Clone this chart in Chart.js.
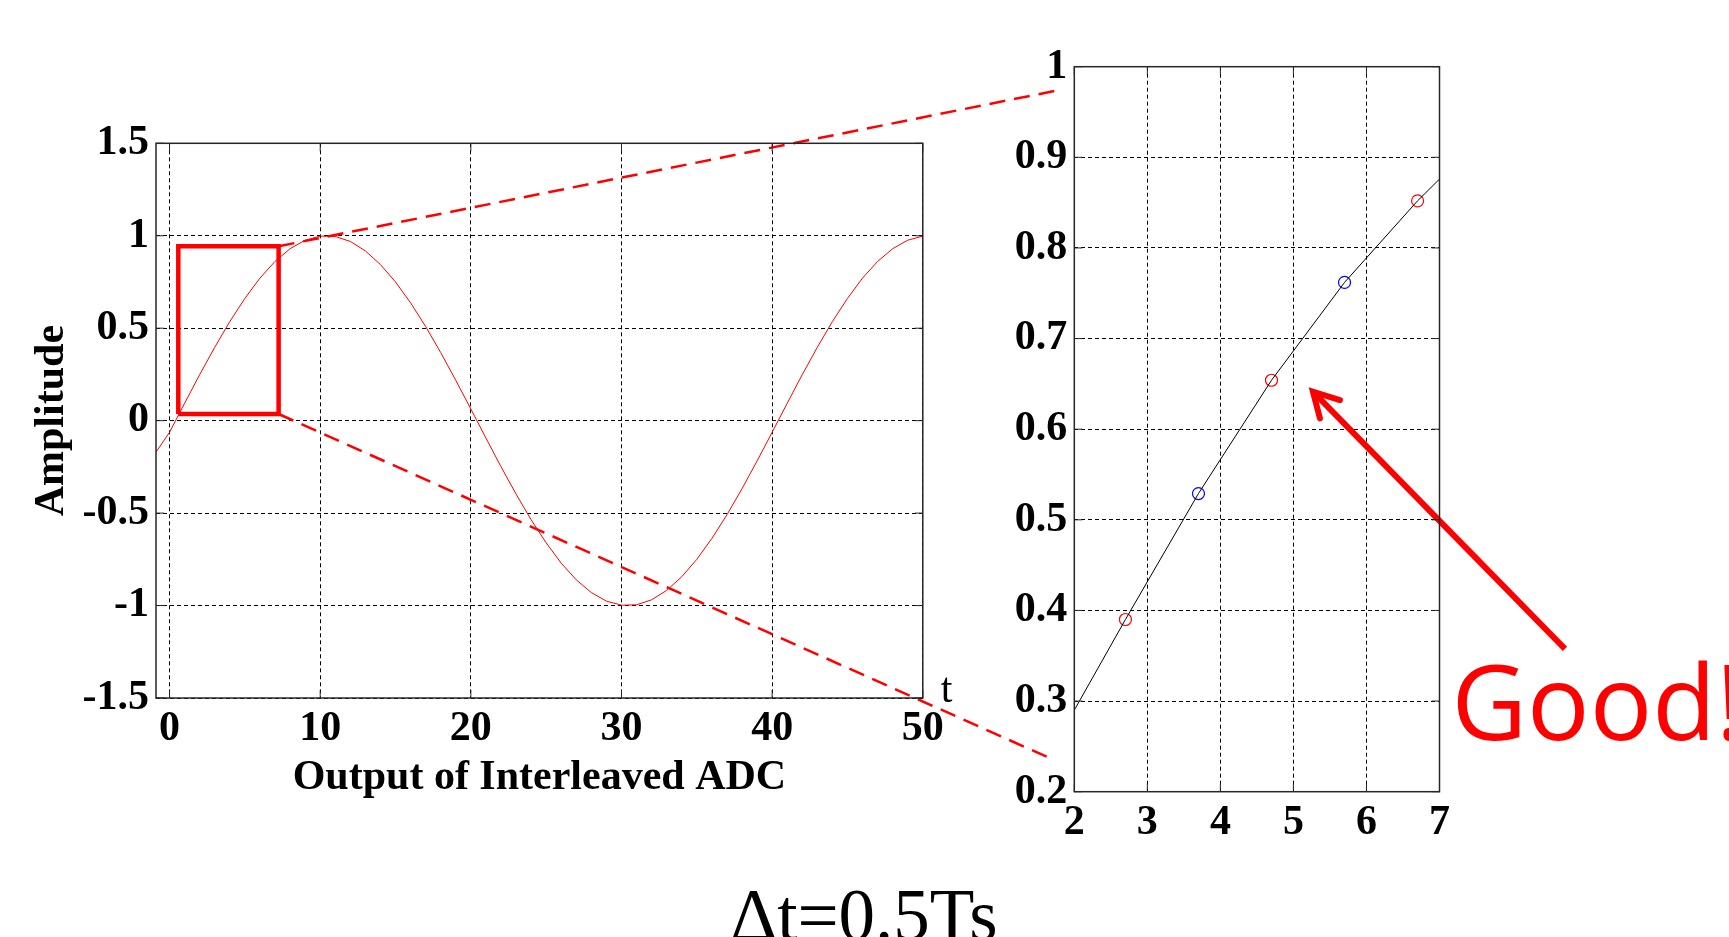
<!DOCTYPE html>
<html>
<head>
<meta charset="utf-8">
<title>Output of Interleaved ADC, Δt=0.5Ts</title>
<script src="https://cdn.jsdelivr.net/npm/chart.js@4.4.1/dist/chart.umd.min.js"></script>
<style>
  html, body { margin: 0; padding: 0; background: #fff; overflow: hidden; }
  #wrap { position: relative; width: 1729px; height: 937px; }
  canvas { position: absolute; top: 0; }
  #mainChart { left: 0; }
  #zoomChart { left: 980px; }
</style>
</head>
<body>
<div id="wrap">
  <canvas id="mainChart" width="1729" height="937"></canvas>
  <canvas id="zoomChart" width="749" height="937"></canvas>
</div>
<script>
// Main trace (left plot)

const timeSamples = [-0.9, 0, 1, 2, 3, 4, 5, 6, 7, 8, 9, 10, 11, 12, 13, 14, 15, 16, 17, 18, 19, 20,
  21, 22, 23, 24, 25, 26, 27, 28, 29, 30, 31, 32, 33, 34, 35, 36, 37, 38, 39, 40,
  41, 42, 43, 44, 45, 46, 47, 48, 49, 50];
const amplitude = [-0.17, -0.063, 0.094, 0.249, 0.397, 0.536, 0.661, 0.771, 0.861, 0.930, 0.976, 0.998,
  0.996, 0.969, 0.918, 0.844, 0.750, 0.637, 0.509, 0.368, 0.218, 0.063,
  -0.094, -0.249, -0.397, -0.536, -0.661, -0.771, -0.861, -0.930, -0.976, -0.998,
  -0.996, -0.969, -0.918, -0.844, -0.750, -0.637, -0.509, -0.368, -0.218, -0.063,
  0.094, 0.249, 0.397, 0.536, 0.661, 0.771, 0.861, 0.930, 0.976, 0.998];
const mainXTicks = [0, 10, 20, 30, 40, 50];
const mainYTicks = [-1.5, -1, -0.5, 0, 0.5, 1, 1.5];

// zoom box and the dashed lead lines (main plot units)
const boxX = [0.58, 7.24, 7.24, 0.58, 0.58];
const boxY = [0.036, 0.036, 0.943, 0.943, 0.036];
const leadUpperX = [7.24, 58.8];
const leadUpperY = [0.943, 1.784];
const leadLowerX = [7.24, 58.7];
const leadLowerY = [0.036, -1.835];

// Zoomed trace (right plot)

const zoomLineX = [2, 2.7, 3.7, 4.7, 5.7, 6.7, 7];
const zoomLineY = [0.29, 0.39, 0.529, 0.654, 0.762, 0.852, 0.876];
const adcAX = [2.7, 4.7, 6.7];
const adcAY = [0.39, 0.654, 0.852];
const adcBX = [3.7, 5.7];
const adcBY = [0.529, 0.762];
const zoomXTicks = [2, 3, 4, 5, 6, 7];
const zoomYTicks = [0.2, 0.3, 0.4, 0.5, 0.6, 0.7, 0.8, 0.9, 1];

// arrow (zoom plot units)
const arrowShaftX = [8.718, 5.267];
const arrowShaftY = [0.3575, 0.6414];
const arrowHeadX = [5.637, 5.267, 5.363];
const arrowHeadY = [0.6322, 0.6414, 0.612];

const pts = (xs, ys) => xs.map((x, i) => ({ x: x, y: ys[i] }));

Chart.defaults.font.family = '"Liberation Serif", "Times New Roman", serif';
Chart.defaults.color = "#000";

const tickFont = { size: 42, weight: "bold" };
const titleFont = { size: 42, weight: "bold" };

// Frame round the plot area with short inward ticks, like a MATLAB axes box
const axesBox = {
  id: "axesBox",
  afterDraw(chart) {
    const { ctx, chartArea, scales } = chart;
    const a = chartArea;
    ctx.save();
    ctx.strokeStyle = "#262626";
    ctx.lineWidth = 1;
    ctx.beginPath();
    scales.x.ticks.forEach((t) => {
      const px = scales.x.getPixelForValue(t.value);
      ctx.moveTo(px, a.bottom); ctx.lineTo(px, a.bottom - 8);
      ctx.moveTo(px, a.top); ctx.lineTo(px, a.top + 8);
    });
    scales.y.ticks.forEach((t) => {
      const py = scales.y.getPixelForValue(t.value);
      ctx.moveTo(a.left, py); ctx.lineTo(a.left + 8, py);
      ctx.moveTo(a.right, py); ctx.lineTo(a.right - 8, py);
    });
    ctx.stroke();
    ctx.lineWidth = 1.5;
    ctx.strokeRect(a.left, a.top, a.width, a.height);
    ctx.restore();
  },
};

const mainNotes = {
  id: "mainNotes",
  afterDraw(chart) {
    const { ctx, scales } = chart;
    ctx.save();
    ctx.fillStyle = "#000";
    ctx.textBaseline = "alphabetic";
    ctx.font = '42px "Liberation Serif"';
    ctx.fillText("t", scales.x.right + 18, scales.y.bottom + 4);
    ctx.font = '73px "Liberation Serif"';
    ctx.textAlign = "center";
    ctx.fillText("Δt=0.5Ts", 864, 940);
    ctx.restore();
  },
};

const zoomNotes = {
  id: "zoomNotes",
  afterDraw(chart) {
    const { ctx, chartArea } = chart;
    ctx.save();
    ctx.fillStyle = "#ff0000";
    ctx.textBaseline = "alphabetic";
    ctx.font = '104px "Open Sans"';
    ctx.fillText("Good!", chartArea.right + 12, 740);
    ctx.restore();
  },
};

const gridOpts = { color: "#000", lineWidth: 1, drawTicks: false };
const borderOpts = { display: false, dash: [4, 3] };

// Left plot

new Chart(document.getElementById("mainChart"), {
  type: "scatter",
  data: {
    datasets: [
      {
        data: pts(timeSamples, amplitude),
        showLine: true,
        borderColor: "#ff0000",
        borderWidth: 1,
        pointRadius: 0,
      },
      {
        data: pts(boxX, boxY),
        showLine: true,
        borderColor: "#ff0000",
        borderWidth: 4.5,
        borderJoinStyle: "miter",
        pointRadius: 0,
        clip: false,
      },
      {
        data: pts(leadUpperX, leadUpperY),
        showLine: true,
        borderColor: "#ff0000",
        borderWidth: 2.5,
        borderDash: [16, 9],
        pointRadius: 0,
        clip: false,
      },
      {
        data: pts(leadLowerX, leadLowerY),
        showLine: true,
        borderColor: "#ff0000",
        borderWidth: 2.5,
        borderDash: [16, 9],
        pointRadius: 0,
        clip: false,
      },
    ],
  },
  options: {
    responsive: false,
    animation: false,
    layout: { padding: { left: 0, top: 143.3, right: 806.2, bottom: 0 } },
    plugins: { legend: { display: false }, tooltip: { enabled: false } },
    scales: {
      x: {
        type: "linear",
        min: -0.9,
        max: 50,
        afterBuildTicks: (s) => { s.ticks = mainXTicks.map((v) => ({ value: v })); },
        afterFit: (s) => { s.height = 239; },
        grid: gridOpts,
        border: borderOpts,
        ticks: { font: tickFont, padding: 6, maxRotation: 0, autoSkip: false, callback: (v) => String(v) },
        title: {
          display: true,
          text: "Output of Interleaved ADC",
          font: titleFont,
          padding: { top: 0, bottom: 134 },
        },
      },
      y: {
        min: -1.5,
        max: 1.5,
        afterBuildTicks: (s) => { s.ticks = mainYTicks.map((v) => ({ value: v })); },
        afterFit: (s) => { s.width = 156; },
        grid: gridOpts,
        border: borderOpts,
        ticks: { font: tickFont, padding: 7, autoSkip: false, callback: (v) => String(v) },
        title: {
          display: true,
          text: "Amplitude",
          font: titleFont,
          padding: { top: 27, bottom: 0 },
        },
      },
    },
  },
  plugins: [axesBox, mainNotes],
});

// Right plot (zoomed)

new Chart(document.getElementById("zoomChart"), {
  type: "scatter",
  data: {
    datasets: [
      {
        data: pts(zoomLineX, zoomLineY),
        showLine: true,
        borderColor: "#000",
        borderWidth: 1,
        pointRadius: 0,
      },
      {
        data: pts(adcAX, adcAY),
        showLine: false,
        pointRadius: 6,
        pointBorderWidth: 1.2,
        pointBorderColor: "#ff0000",
        pointBackgroundColor: "rgba(0,0,0,0)",
      },
      {
        data: pts(adcBX, adcBY),
        showLine: false,
        pointRadius: 6,
        pointBorderWidth: 1.2,
        pointBorderColor: "#0000ff",
        pointBackgroundColor: "rgba(0,0,0,0)",
      },
      {
        data: pts(arrowShaftX, arrowShaftY),
        showLine: true,
        borderColor: "#ff0000",
        borderWidth: 6,
        pointRadius: 0,
        clip: false,
      },
      {
        data: pts(arrowHeadX, arrowHeadY),
        showLine: true,
        borderColor: "#ff0000",
        borderWidth: 6,
        borderCapStyle: "round",
        pointRadius: 0,
        clip: false,
      },
    ],
  },
  options: {
    responsive: false,
    animation: false,
    layout: { padding: { left: 0, top: 66.7, right: 289.5, bottom: 0 } },
    plugins: { legend: { display: false }, tooltip: { enabled: false } },
    scales: {
      x: {
        type: "linear",
        min: 2,
        max: 7,
        afterBuildTicks: (s) => { s.ticks = zoomXTicks.map((v) => ({ value: v })); },
        afterFit: (s) => { s.height = 145.3; },
        grid: gridOpts,
        border: borderOpts,
        ticks: { font: tickFont, padding: 6, maxRotation: 0, autoSkip: false, callback: (v) => String(v) },
      },
      y: {
        min: 0.2,
        max: 1,
        afterBuildTicks: (s) => { s.ticks = zoomYTicks.map((v) => ({ value: v })); },
        afterFit: (s) => { s.width = 94.3; },
        grid: gridOpts,
        border: borderOpts,
        ticks: { font: tickFont, padding: 7, autoSkip: false, callback: (v) => String(v) },
      },
    },
  },
  plugins: [axesBox, zoomNotes],
});
</script>
</body>
</html>
